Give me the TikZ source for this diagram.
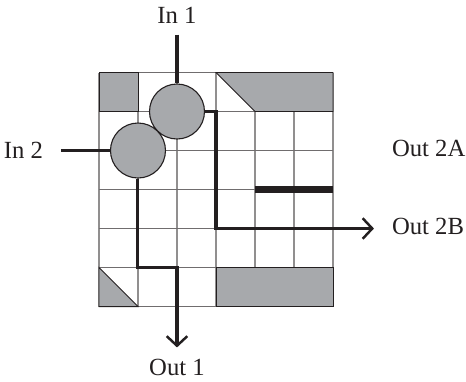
\documentclass[tikz,border=0pt]{standalone}
\usepackage{fontspec}
\setmainfont{Liberation Serif}
\usetikzlibrary{arrows.meta}
\definecolor{blockgray}{HTML}{A7A9AC}
\definecolor{linedark}{HTML}{231F20}
\tikzset{
    label text/.style={font=\fontsize{18}{20}\selectfont,text=linedark,inner ysep=8pt,inner xsep=13pt},
    grid h/.style={draw=linedark!65,line width=0.6pt},
    grid v/.style={draw=linedark!50,line width=0.9pt},
    block/.style={fill=blockgray,draw=linedark,line width=0.7pt},
    signal/.style={draw=linedark,line width=2.2pt},
    signal out/.style={signal,-{Straight Barb[length=7pt,width=15pt,line width=1.8pt]}},
    switch/.style={circle,fill=blockgray,draw=linedark,line width=0.8pt,minimum size=1.41cm,inner sep=0pt}
}
\begin{document}
\begin{tikzpicture}
    \useasboundingbox (-2.538,-1.91) rectangle (9.41,7.859);

    % grid
    \foreach \i in {0,...,6} {
        \draw[grid v] (\i,0) -- (\i,6);
    }
    \foreach \j in {0,...,6} {
        \draw[grid h] (0,\j) -- (6,\j);
    }

    % grey blocks
    \draw[block] (0,5) rectangle (1,6);
    \draw[block] (3,6) -- (6,6) -- (6,5) -- (4,5) -- cycle;
    \draw[block] (0,1) -- (1,0) -- (0,0) -- cycle;
    \draw[block] (3,0) rectangle (6,1);

    % wide bar
    \draw[linedark,line width=5pt] (4,3) -- (6,3);

    % switches
    \node[switch] (sw1) at (2,5) {};
    \node[switch] (sw2) at (1,4) {};

    % labels
    \node[label text] (in1) at (2,7.47) {In 1};
    \node[label text] (in2) at (-1.94,4) {In 2};
    \node[label text,anchor=west] (out2a) at (7.05,4.05) {Out 2A};
    \node[label text,anchor=west] (out2b) at (7.05,2.06) {Out 2B};
    \node[label text] (out1) at (2,-1.55) {Out 1};

    % signal paths
    \draw[signal] (in1) -- (sw1);
    \draw[signal] (in2) -- (sw2);
    \draw[signal out] (sw1) -| (3,2) -- (3,2 -| out2b.west);
    \draw[signal out] (sw2) -- (1,1) -| (out1);

\end{tikzpicture}
\end{document}
